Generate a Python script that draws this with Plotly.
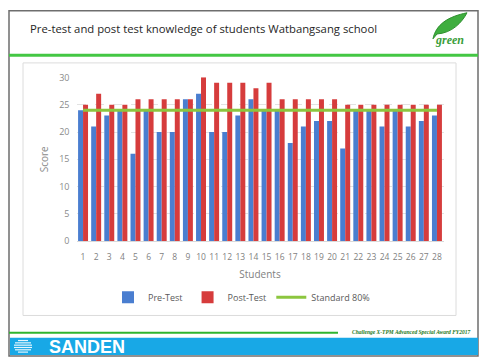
import plotly.graph_objects as go

# Test scores of 28 students (maximum score 30)
students = list(range(1, 29))
pre_test = [24, 21, 23, 24, 16, 24, 20, 20, 26, 27, 20, 20, 23, 26, 24,
            24, 18, 21, 22, 22, 17, 24, 24, 21, 24, 21, 22, 23]
post_test = [25, 27, 25, 25, 26, 26, 26, 26, 26, 30, 29, 29, 29, 28, 29,
             26, 26, 26, 26, 26, 25, 25, 25, 25, 25, 25, 25, 25]
standard = [24] * len(students)  # 80% of 30
y_ticks = [0, 5, 10, 15, 20, 25, 30]

W, H = 483, 361


def px(x):
    return x / W


def py(y):
    return 1 - y / H


fig = go.Figure()
fig.add_trace(go.Bar(x=students, y=pre_test, name="Pre-Test",
                     marker=dict(color="#4a7ed0", line=dict(width=0))))
fig.add_trace(go.Bar(x=students, y=post_test, name="Post-Test",
                     marker=dict(color="#d63c3c", line=dict(width=0))))
fig.add_trace(go.Scatter(x=students, y=standard, name="Standard 80%",
                         mode="lines", line=dict(color="#8cc63f", width=3)))

shapes = [
    # slide frame
    dict(type="rect", xref="paper", yref="paper", x0=px(9), x1=px(478),
         y0=py(362), y1=py(4), line=dict(color="#6e6e6e", width=1.5),
         fillcolor="white", layer="below"),
    # header rule
    dict(type="line", xref="paper", yref="paper", x0=px(9), x1=px(478),
         y0=py(50), y1=py(50), line=dict(color="#44c744", width=3)),
    # chart box
    dict(type="rect", xref="paper", yref="paper", x0=px(23), x1=px(456),
         y0=py(320), y1=py(58), line=dict(color="#dcdcdc", width=1),
         layer="below"),
    # footer rule
    dict(type="line", xref="paper", yref="paper", x0=px(9), x1=px(338),
         y0=py(338), y1=py(338), line=dict(color="#2fb52f", width=2)),
    # footer banner
    dict(type="rect", xref="paper", yref="paper", x0=px(10), x1=px(478),
         y0=py(361), y1=py(343), line=dict(width=0), fillcolor="#18a8e6"),
    # leaf
    dict(type="path", xref="paper", yref="paper",
         path=(f"M {px(433)},{py(33)} "
               f"C {px(436)},{py(18)} {px(448)},{py(10)} {px(467)},{py(6)} "
               f"C {px(462)},{py(16)} {px(452)},{py(27)} {px(437)},{py(28)} "
               f"Z"),
         fillcolor="#3fae3f", line=dict(color="#2e8f2e", width=1)),
]

# stripe mark in the footer banner
for i, (a, b) in enumerate([(18, 28), (15, 31), (14, 32), (14, 32), (15, 31), (18, 28)]):
    yy = 346 + i * 2.4
    shapes.append(dict(type="line", xref="paper", yref="paper",
                       x0=px(a), x1=px(b), y0=py(yy), y1=py(yy),
                       line=dict(color="#e6f6fd", width=1.2)))

annotations = [
    dict(text="Pre-test and post test knowledge of students Watbangsang school",
         x=px(28), y=py(22), xref="paper", yref="paper", xanchor="left",
         yanchor="middle", showarrow=False,
         font=dict(family="Open Sans", size=11.3, color="#262626")),
    dict(text="<b><i>green</i></b>", x=px(449), y=py(34), xref="paper",
         yref="paper", xanchor="center", yanchor="middle", showarrow=False,
         font=dict(family="Liberation Serif", size=12, color="#3a9e3a")),
    dict(text="<b><i>Challenge X-TPM Advanced Special Award FY2017</i></b>",
         x=px(472), y=py(337), xref="paper", yref="paper", xanchor="right",
         yanchor="middle", showarrow=False,
         font=dict(family="Liberation Serif", size=5.5, color="#1d7a1d")),
    dict(text="<b>SANDEN</b>", x=px(47), y=py(352.5), xref="paper",
         yref="paper", xanchor="left", yanchor="middle", showarrow=False,
         font=dict(family="Liberation Sans", size=18, color="white")),
]

fig.update_layout(
    width=W, height=H,
    margin=dict(l=0, r=0, t=0, b=0),
    paper_bgcolor="white", plot_bgcolor="rgba(0,0,0,0)",
    barmode="group", bargap=0.24, bargroupgap=0.0,
    font=dict(family="Open Sans", color="#595959"),
    shapes=shapes, annotations=annotations,
    showlegend=True,
    legend=dict(orientation="h", x=0.5, xanchor="center", y=py(301),
                yanchor="middle", font=dict(size=9, color="#595959"),
                itemwidth=30, bgcolor="rgba(0,0,0,0)"),
    xaxis=dict(domain=[px(76.5), px(443.5)], range=[0.5, 28.5],
               tickmode="array", tickvals=students,
               ticktext=[str(s) for s in students],
               tickfont=dict(size=8.5, color="#7f7f7f"),
               showgrid=False, zeroline=False, showline=True,
               linecolor="#d9d9d9", ticks="", ticklabelstandoff=8,
               title=dict(text="Students", font=dict(size=10, color="#7f7f7f"),
                          standoff=9)),
    yaxis=dict(domain=[py(243), py(73)], range=[0, 30],
               tickmode="array", tickvals=y_ticks,
               tickfont=dict(size=9, color="#8a8a8a"),
               showgrid=True, gridcolor="#e2e2e2", griddash="dash",
               zeroline=False, showline=False, ticks="",
               ticklabelstandoff=6,
               title=dict(text="Score", font=dict(size=10, color="#8a8a8a"),
                          standoff=8)),
)

fig.write_html("out.html")
